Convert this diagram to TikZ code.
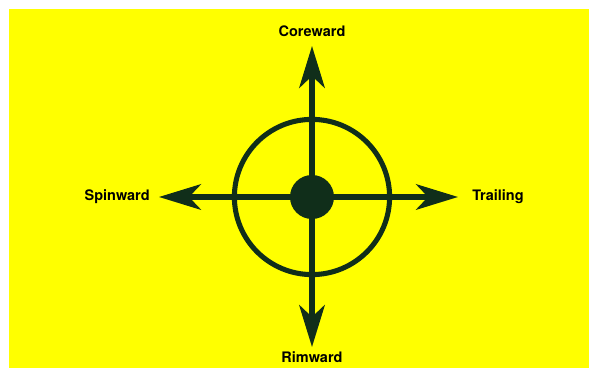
\documentclass[tikz,border=0pt]{standalone}
\usepackage{fontspec}
\setmainfont{TeX Gyre Heros}
\usepackage{xcolor}
\usetikzlibrary{arrows.meta}
\definecolor{darkfir}{RGB}{16,46,26}
\definecolor{signyellow}{RGB}{255,255,0}

\begin{document}
\begin{tikzpicture}[
        dir/.style={line width=3.6pt, darkfir, -{Stealth[length=1.05cm, width=0.64cm, inset=0.3cm]}},
        lbl/.style={font=\fontsize{10.3}{12}\selectfont\bfseries, inner sep=0pt}]
        % Frame
        \useasboundingbox (-7.8,-4.35) rectangle (7.175,4.925);
        \fill[signyellow] (-7.575,-4.275) rectangle (6.925,4.7);

        % Hub and ring
        \node[circle, fill=darkfir, minimum size=1.1cm, inner sep=0pt] (hub) at (0,0) {};
        \node[circle, draw=darkfir, line width=3.6pt, minimum size=3.88cm, inner sep=0pt] (ring) at (hub) {};

        % Arrow ends
        \coordinate (up) at (0,3.775);
        \coordinate (down) at (0,-3.75);
        \coordinate (left) at (-3.825,0);
        \coordinate (right) at (3.65,0);

        % The four directions
        \draw[dir] (hub.center) -- (up);
        \draw[dir] (hub.center) -- (down);
        \draw[dir] (hub.center) -- (left);
        \draw[dir] (hub.center) -- (right);

        % Labels
        \node[lbl, anchor=base] (core) at (0,4.0) {Coreward};
        \node[lbl, anchor=base] (rim) at (0,-4.15) {Rimward};
        \node[lbl, anchor=base east] (spin) at (-4.05,-0.1) {Spinward};
        \node[lbl, anchor=base west] (trail) at (4.0,-0.1) {Trailing};
    \end{tikzpicture}
\end{document}
